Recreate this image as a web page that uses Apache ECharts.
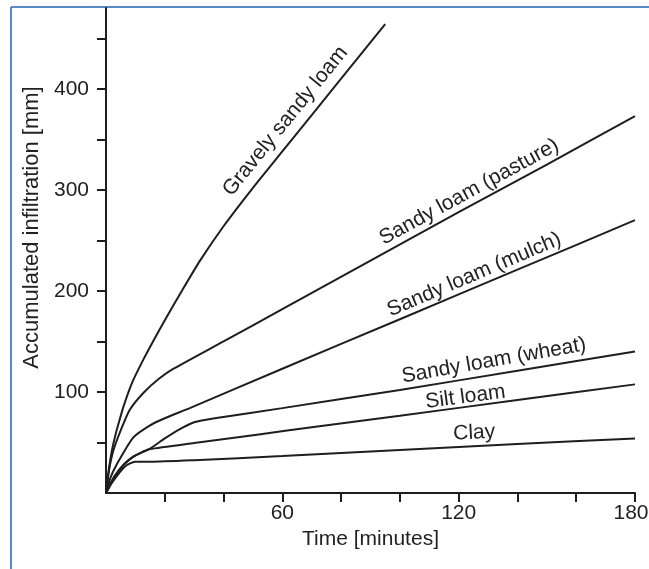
<!DOCTYPE html>
<html>
<head>
<meta charset="utf-8">
<title>Accumulated infiltration</title>
<script src="https://cdn.jsdelivr.net/npm/echarts@6/dist/echarts.min.js"></script>
<style>
  html, body { margin: 0; padding: 0; background: #fff; }
  #main { width: 649px; height: 569px; }
</style>
</head>
<body>
<div id="main"></div>
<script>
// time [minutes], accumulated infiltration [mm]
const soilNames = ['Gravely sandy loam', 'Sandy loam (pasture)', 'Sandy loam (mulch)',
                   'Sandy loam (wheat)', 'Silt loam', 'Clay'];

const gravelySandyLoam = [[0, 0], [1, 24], [2, 42], [3, 55], [4, 66], [6, 86], [9, 110], [12.7, 132],
  [16, 150], [20.6, 174], [26, 201], [32, 230], [40, 264], [50, 302], [60, 338], [80, 410], [95, 464]];
const sandyLoamPasture = [[0, 0], [1, 22], [2.5, 42], [5, 62], [8, 82], [12.7, 99], [18, 113],
  [23, 123], [40, 150], [60, 182], [90, 230], [120, 278], [150, 325], [180, 373]];
const sandyLoamMulch = [[0, 0], [1.5, 15], [3.6, 28], [9.3, 55], [15, 67], [20, 74], [28.5, 84],
  [60, 123], [100, 172], [140, 221], [180, 270]];
const sandyLoamWheat = [[0, 0], [1.5, 9], [3, 17], [6, 28], [9.3, 36], [12, 40], [15, 44], [20, 54],
  [25, 63], [30, 70], [37, 74], [60, 84], [100, 102], [140, 121], [180, 140]];
const siltLoam = [[0, 0], [1.5, 9], [3, 17], [6, 28], [9.3, 36], [12, 40], [15, 43.5], [30, 49.5],
  [52, 58], [70, 65], [100, 76.5], [140, 92], [180, 107.5]];
const clay = [[0, 0], [2, 10], [4, 18], [6, 25], [8, 29], [10, 31], [15, 31], [30, 32.5],
  [60, 36.5], [100, 42.5], [140, 48.5], [180, 54]];

const xTicks = [20, 40, 60, 80, 100, 120, 140, 160, 180];
const xTickLabels = [60, 120, 180];
const yTicks = [50, 100, 150, 200, 250, 300, 350, 400, 450];
const yTickLabels = [100, 200, 300, 400];

// where each curve's name sits (data coords) and its slant
const curveLabels = [
  { coord: [61, 368], rotate: 51 },
  { coord: [123.6, 298], rotate: 28.5 },
  { coord: [125.3, 216], rotate: 23 },
  { coord: [132, 131], rotate: 10 },
  { coord: [122.3, 95], rotate: 7.5 },
  { coord: [125.3, 59.4], rotate: 3 }
];

const seriesData = [gravelySandyLoam, sandyLoamPasture, sandyLoamMulch, sandyLoamWheat, siltLoam, clay];

const FONT = "'Liberation Sans', Arial, Helvetica, sans-serif";
const INK = '#1e1e1e';

const chart = echarts.init(document.getElementById('main'));

const option = {
  animation: false,
  backgroundColor: '#fff',
  grid: {
    left: 106,
    right: 14,
    top: 8,
    bottom: 76,
    outerBoundsMode: 'none'
  },
  xAxis: {
    type: 'value',
    min: 0,
    max: 180,
    interval: 20,
    name: 'Time [minutes]',
    nameLocation: 'middle',
    nameGap: 36,
    nameTextStyle: { fontFamily: FONT, fontSize: 21, color: '#222' },
    axisLine: { show: true, lineStyle: { color: INK, width: 2 } },
    axisTick: { show: true, inside: false, length: 9, customValues: xTicks,
                lineStyle: { color: INK, width: 2 } },
    axisLabel: {
      customValues: xTickLabels, margin: 10,
      fontFamily: FONT, fontSize: 21, color: '#222',
      // the last label is nudged left so it stays inside the frame
      formatter: function (v) { return v === 180 ? '{last|' + v + '}' : String(v); },
      rich: { last: { fontFamily: FONT, fontSize: 21, color: '#222', padding: [0, 8, 0, 0] } }
    },
    splitLine: { show: false }
  },
  yAxis: {
    type: 'value',
    min: 0,
    max: 480,
    interval: 50,
    name: 'Accumulated infiltration [mm]',
    nameLocation: 'middle',
    nameGap: 58,
    nameTextStyle: { fontFamily: FONT, fontSize: 22, color: '#222', padding: [0, 0, 0, 46] },
    axisLine: { show: true, lineStyle: { color: INK, width: 2 } },
    axisTick: { show: true, inside: false, length: 9, customValues: yTicks,
                lineStyle: { color: INK, width: 2 } },
    axisLabel: { customValues: yTickLabels, margin: 17,
                 fontFamily: FONT, fontSize: 21, color: '#222' },
    splitLine: { show: false }
  },
  graphic: [
    { type: 'line', shape: { x1: 11, y1: 7, x2: 11, y2: 569 }, style: { stroke: '#5a8ac6', lineWidth: 2 } },
    { type: 'line', shape: { x1: 11, y1: 7, x2: 649, y2: 7 }, style: { stroke: '#5a8ac6', lineWidth: 2 } }
  ],
  series: seriesData.map(function (d, i) {
    return {
      name: soilNames[i],
      type: 'line',
      data: d,
      showSymbol: false,
      smooth: 0.2,
      lineStyle: { color: INK, width: 2 },
      markPoint: {
        symbol: 'circle',
        symbolSize: 1,
        itemStyle: { color: 'rgba(0,0,0,0)' },
        label: {
          show: true,
          position: 'inside',
          formatter: soilNames[i],
          rotate: curveLabels[i].rotate,
          fontFamily: FONT,
          fontSize: 21,
          color: '#222'
        },
        data: [{ coord: curveLabels[i].coord }]
      }
    };
  })
};

chart.setOption(option);
</script>
</body>
</html>
